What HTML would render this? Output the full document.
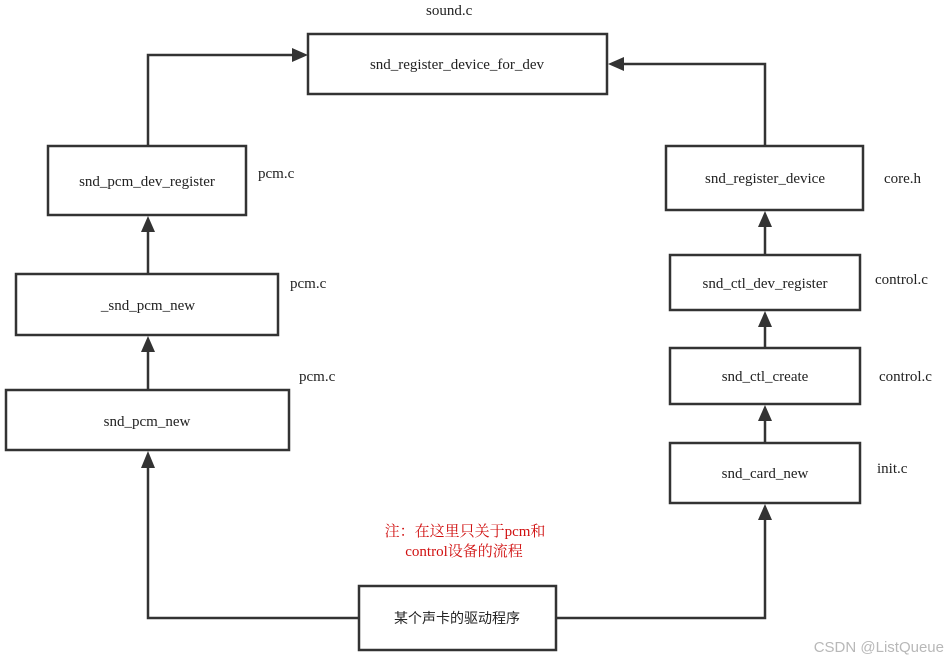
<!DOCTYPE html>
<html><head><meta charset="utf-8"><style>
html,body{margin:0;padding:0;background:#fff;}
svg{display:block;}
text{font-family:"Liberation Serif","Noto Serif CJK SC",serif;font-size:15px;fill:#222;}
</style></head><body>
<svg width="952" height="663" viewBox="0 0 952 663" xmlns="http://www.w3.org/2000/svg">
<defs><marker id="a" markerWidth="10" markerHeight="10" refX="9" refY="5" orient="auto" markerUnits="userSpaceOnUse">
<path d="M0,0 L14,5 L0,10 z" fill="#333"/></marker></defs>
<g fill="none" stroke="#333" stroke-width="2.5">
<rect x="308" y="34" width="299" height="60"/>
<rect x="48" y="146" width="198" height="69"/>
<rect x="16" y="274" width="262" height="61"/>
<rect x="6" y="390" width="283" height="60"/>
<rect x="666" y="146" width="197" height="64"/>
<rect x="670" y="255" width="190" height="55"/>
<rect x="670" y="348" width="190" height="56"/>
<rect x="670" y="443" width="190" height="60"/>
<rect x="359" y="586" width="197" height="64"/>
</g>
<g fill="none" stroke="#333" stroke-width="2.5">
<path d="M148,146 V55 H296"/>
<path d="M148,274 V230"/>
<path d="M148,390 V350"/>
<path d="M359,618 H148 V466"/>
<path d="M556,618 H765 V518"/>
<path d="M765,443 V419"/>
<path d="M765,348 V325"/>
<path d="M765,255 V225"/>
<path d="M765,146 V64 H622"/>
</g>
<g fill="#333">
<path d="M292,48 L308,55 L292,62 z"/>
<path d="M141,232 L148,216 L155,232 z"/>
<path d="M141,352 L148,336 L155,352 z"/>
<path d="M141,468 L148,451 L155,468 z"/>
<path d="M758,520 L765,504 L772,520 z"/>
<path d="M758,421 L765,405 L772,421 z"/>
<path d="M758,327 L765,311 L772,327 z"/>
<path d="M758,227 L765,211 L772,227 z"/>
<path d="M624,57 L608,64 L624,71 z"/>
</g>
<g text-anchor="middle">
<text x="457" y="69">snd_register_device_for_dev</text>
<text x="147" y="186">snd_pcm_dev_register</text>
<text x="148" y="310">_snd_pcm_new</text>
<text x="147" y="426">snd_pcm_new</text>
<text x="765" y="183">snd_register_device</text>
<text x="765" y="288">snd_ctl_dev_register</text>
<text x="765" y="381">snd_ctl_create</text>
<text x="765" y="478">snd_card_new</text>
<text x="457" y="623" style="font-family:'Noto Sans CJK SC',sans-serif;font-size:14px">某个声卡的驱动程序</text>
</g>
<text x="426" y="15">sound.c</text>
<text x="258" y="178">pcm.c</text>
<text x="290" y="288">pcm.c</text>
<text x="299" y="381">pcm.c</text>
<text x="884" y="183">core.h</text>
<text x="875" y="284">control.c</text>
<text x="879" y="381">control.c</text>
<text x="877" y="473">init.c</text>
<g text-anchor="middle" style="font-family:'Liberation Serif','Noto Sans CJK SC',sans-serif;font-size:14px">
<text x="465" y="536" fill="#d01010" style="fill:#d01010">注：在这里只关于pcm和</text>
<text x="464" y="556" style="fill:#d01010">control设备的流程</text>
</g>
<text x="944" y="652" text-anchor="end" style="font-family:'Liberation Sans',sans-serif;font-size:15px;fill:#b8b8b8">CSDN @ListQueue</text>
</svg>
</body></html>
